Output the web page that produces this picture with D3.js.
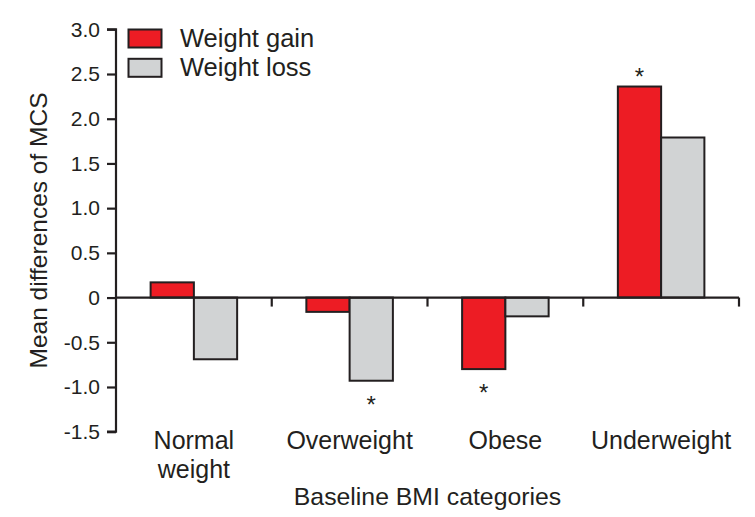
<!DOCTYPE html>
<html>
<head>
<meta charset="utf-8">
<script src="https://cdn.jsdelivr.net/npm/d3@7/dist/d3.min.js"></script>
<style>
  html, body { margin: 0; padding: 0; background: #fff; }
  svg { display: block; font-family: "Liberation Sans", Arial, Helvetica, sans-serif; }
</style>
</head>
<body>
<svg id="chart" width="755" height="517"></svg>
<script>
const categories = ["Normal weight", "Overweight", "Obese", "Underweight"];
const categoryLabels = [["Normal", "weight"], ["Overweight"], ["Obese"], ["Underweight"]];
const seriesNames = ["Weight gain", "Weight loss"];
const weightGain = [0.17, -0.16, -0.80, 2.36];
const weightLoss = [-0.69, -0.93, -0.21, 1.79];
const gainSignificant = [false, false, true, true];
const lossSignificant = [false, true, false, false];
const yTicks = [-1.5, -1.0, -0.5, 0, 0.5, 1.0, 1.5, 2.0, 2.5, 3.0];
const yTickLabels = ["-1.5", "-1.0", "-0.5", "0", "0.5", "1.0", "1.5", "2.0", "2.5", "3.0"];
const yTitle = "Mean differences of MCS";
const xTitle = "Baseline BMI categories";

(function () {
const colors = { "Weight gain": "#ed1c24", "Weight loss": "#d1d3d4" };
const ink = "#231f20";

const svg = d3.select("#chart");
const mLeft = 116, mRight = 739, mTop = 29.3, mBottom = 431.7;

const y = d3.scaleLinear().domain([-1.5, 3.0]).range([mBottom, mTop]);
const x = d3.scaleBand().domain(categories).range([mLeft, mRight]).padding(0);
const xs = d3.scaleBand().domain(seriesNames).range([0, x.bandwidth()]).paddingInner(0).paddingOuter(0.8);

const data = [];
categories.forEach((c, i) => {
  data.push({ cat: c, series: "Weight gain", value: weightGain[i], sig: gainSignificant[i] });
  data.push({ cat: c, series: "Weight loss", value: weightLoss[i], sig: lossSignificant[i] });
});

// bars
svg.append("g").selectAll("rect").data(data).join("rect")
  .attr("x", d => x(d.cat) + xs(d.series))
  .attr("width", xs.bandwidth())
  .attr("y", d => y(Math.max(0, d.value)))
  .attr("height", d => Math.abs(y(d.value) - y(0)))
  .attr("fill", d => colors[d.series])
  .attr("stroke", ink)
  .attr("stroke-width", 2);

// asterisks
svg.append("g").selectAll("text").data(data.filter(d => d.sig)).join("text")
  .attr("x", d => x(d.cat) + xs(d.series) + xs.bandwidth() / 2)
  .attr("y", d => d.value >= 0 ? y(d.value) - 16 : y(d.value) + 17)
  .attr("dy", "0.62em")
  .attr("text-anchor", "middle")
  .attr("font-size", 24)
  .attr("fill", ink)
  .text("*");

// y axis
const yAxis = d3.axisLeft(y).tickValues(yTicks).tickSize(9).tickPadding(7)
  .tickFormat((d, i) => yTickLabels[i]);
const gy = svg.append("g").attr("transform", `translate(${mLeft},0)`).call(yAxis);
gy.select(".domain").attr("stroke", ink).attr("stroke-width", 2.2).attr("d", `M-9,${mBottom}H0V${mTop}H-9`);
gy.selectAll(".tick line").attr("stroke", ink).attr("stroke-width", 2.2);
gy.selectAll(".tick text").attr("fill", ink).attr("font-size", 21)
  .attr("font-family", "'Liberation Sans', Arial, sans-serif");

// zero line with category separators
const boundaries = categories.map(c => x(c) + x.bandwidth());
svg.append("line").attr("x1", mLeft).attr("x2", mRight).attr("y1", y(0)).attr("y2", y(0))
  .attr("stroke", ink).attr("stroke-width", 2.2);
svg.append("g").selectAll("line").data(boundaries).join("line")
  .attr("x1", d => d).attr("x2", d => d)
  .attr("y1", y(0)).attr("y2", y(0) + 9)
  .attr("stroke", ink).attr("stroke-width", 2.2);

// category labels
const catG = svg.append("g").selectAll("text").data(categories).join("text")
  .attr("x", d => x(d) + x.bandwidth() / 2)
  .attr("y", 449)
  .attr("text-anchor", "middle")
  .attr("font-size", 25)
  .attr("fill", ink);
catG.each(function(d, i) {
  const t = d3.select(this);
  categoryLabels[i].forEach((line, j) => {
    t.append("tspan").attr("x", x(d) + x.bandwidth() / 2).attr("dy", j === 0 ? 0 : 29).text(line);
  });
});

// x title
svg.append("text").attr("x", (mLeft + mRight) / 2).attr("y", 505)
  .attr("text-anchor", "middle").attr("font-size", 24.8).attr("fill", ink).text(xTitle);

// y title
svg.append("text").attr("transform", `translate(47,${(mTop + mBottom) / 2}) rotate(-90)`)
  .attr("text-anchor", "middle").attr("font-size", 24.5).attr("fill", ink).text(yTitle);

// legend
const legend = svg.append("g");
seriesNames.forEach((s, i) => {
  legend.append("rect").attr("x", 128.5).attr("y", 29.5 + i * 29.3)
    .attr("width", 33).attr("height", 18)
    .attr("fill", colors[s]).attr("stroke", ink).attr("stroke-width", 2);
  legend.append("text").attr("x", 180).attr("y", 46.5 + i * 29.3)
    .attr("font-size", 25.5).attr("fill", ink).text(s);
});
})();
</script>
</body>
</html>
